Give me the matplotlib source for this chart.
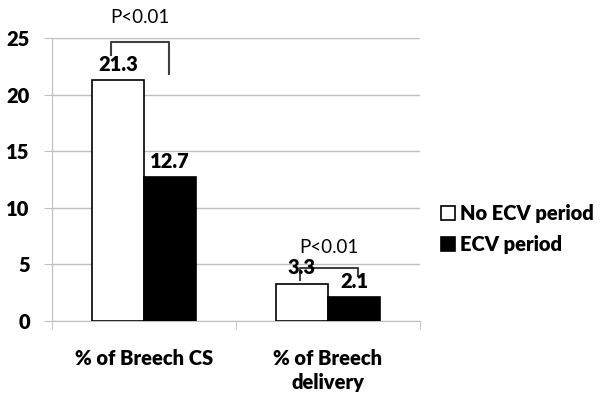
import numpy as np
import matplotlib
matplotlib.use("Agg")
import matplotlib.pyplot as plt

plt.rcParams['font.family'] = ['Lato', 'DejaVu Sans']

categories = ['% of Breech CS', '% of Breech\ndelivery']
series_names = ['No ECV period', 'ECV period']
no_ecv = [21.3, 3.3]
ecv = [12.7, 2.1]
yticks = [0, 5, 10, 15, 20, 25]
p_labels = ['P<0.01', 'P<0.01']

BOLD = 'heavy'

fig = plt.figure(figsize=(6.0, 4.03), dpi=100)
ax = fig.add_axes([52 / 600, 82 / 403, 368 / 600, 283 / 403])

x = np.arange(len(categories))
w = 0.283
b1 = ax.bar(x - w / 2, no_ecv, w, color='white', edgecolor='black', linewidth=1.2,
            label=series_names[0], zorder=3)
b2 = ax.bar(x + w / 2, ecv, w, color='black', edgecolor='black', linewidth=1.2,
            label=series_names[1], zorder=3)

# value labels
for rects in (b1, b2):
    for r in rects:
        ax.text(r.get_x() + r.get_width() / 2, r.get_height() + 1.4, f'{r.get_height():.1f}',
                ha='center', va='center', fontsize=14.5, fontweight=BOLD, zorder=5)

# significance brackets, x offsets relative to the category centre
brackets = [
    # dx-left, dx-right, top, left bottom, right bottom, text y
    (-0.179, 0.136, 24.65, 23.5, 21.8, 26.85),
    (-0.152, 0.163, 4.68, 3.6, 4.0, 6.5),
]
for xc, (xl, xr, top, lb, rb, ty), lab in zip(x, brackets, p_labels):
    ax.plot([xc + xl, xc + xl, xc + xr, xc + xr], [lb, top, top, rb], color='#404040',
            lw=1.5, clip_on=False, zorder=4)
    ax.text(xc + (xl + xr) / 2, ty, lab, ha='center', va='center', fontsize=13.5,
            clip_on=False, zorder=5)

ax.set_xlim(-0.5, 1.5)
ax.set_ylim(0, 25)
ax.set_yticks(yticks)
ax.set_yticklabels([str(t) for t in yticks], fontsize=14.5, fontweight=BOLD)
ax.set_xticks(x)
ax.set_xticklabels(categories, fontsize=14.5, fontweight=BOLD, linespacing=1.35)
ax.tick_params(axis='x', length=0, pad=20)
ax.tick_params(axis='y', length=6, color='#bfbfbf', pad=10)
ax.set_xticks([-0.5, 0.5, 1.5], minor=True)
ax.tick_params(axis='x', which='minor', length=6, color='#bfbfbf')

ax.grid(axis='y', color='#bfbfbf', lw=1, zorder=0)
for s in ['top', 'right']:
    ax.spines[s].set_visible(False)
ax.spines['left'].set_color('#bfbfbf')
ax.spines['bottom'].set_color('#bfbfbf')

leg = ax.legend(loc='center left', bbox_to_anchor=(1.058, 0.325), frameon=False,
                prop={'size': 14.5, 'weight': BOLD}, handlelength=0.7,
                handleheight=0.7, handletextpad=0.25, labelspacing=0.6,
                borderaxespad=0, borderpad=0)

fig.savefig('out.png', dpi=100)
